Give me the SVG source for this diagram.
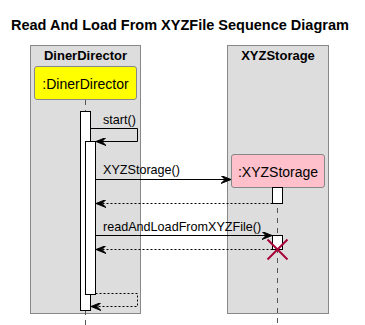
<svg xmlns="http://www.w3.org/2000/svg" width="365" height="325" viewBox="0 0 365 325">
  <style>
    .title { font-family: "Liberation Sans", Arial, sans-serif; font-size: 14.5px; font-weight: bold; fill: #000; }
    .boxtitle { font-family: "Liberation Sans", Arial, sans-serif; font-size: 13px; font-weight: bold; fill: #000; }
    .ptext { font-family: "Liberation Sans", Arial, sans-serif; font-size: 14px; fill: #000; }
    .mtext { font-family: "Liberation Sans", Arial, sans-serif; font-size: 12.6px; fill: #000; }
    .box { fill: #DDDDDD; stroke: #888888; stroke-width: 1; }
    .life { stroke: #555555; stroke-width: 1; stroke-dasharray: 5,5; fill: none; }
    .act { fill: #FFFFFF; stroke: #000000; stroke-width: 1; }
    .msg { stroke: #000000; stroke-width: 1; fill: none; }
    .ret { stroke: #000000; stroke-width: 1; fill: none; stroke-dasharray: 2,2; }
    .head { fill: #000000; stroke: #000000; stroke-width: 1; }
  </style>
  <defs>
    <marker id="arr" viewBox="0 0 10 8" markerWidth="10" markerHeight="8" refX="10" refY="4" orient="auto" markerUnits="userSpaceOnUse">
      <polygon class="head" points="10,4 0,0 4,4 0,8"/>
    </marker>
  </defs>

  <text class="title" x="11" y="30">Read And Load From XYZFile Sequence Diagram</text>

  <!-- boxes grouping participants -->
  <g id="box-dinerdirector">
    <rect class="box" x="30.5" y="45.5" width="110" height="268"/>
    <text class="boxtitle" x="85.5" y="60" text-anchor="middle">DinerDirector</text>
  </g>
  <g id="box-xyzstorage">
    <rect class="box" x="227.5" y="45.5" width="101" height="268"/>
    <text class="boxtitle" x="278" y="60" text-anchor="middle">XYZStorage</text>
  </g>

  <!-- lifelines -->
  <g id="lifelines">
    <line class="life" x1="85.5" y1="100" x2="85.5" y2="325"/>
    <line class="life" x1="277.5" y1="188" x2="277.5" y2="325"/>
  </g>

  <g id="dinerdirector">
    <rect x="34.5" y="66.5" width="102" height="33" rx="2.5" ry="2.5" fill="#FFFF00" stroke="#888888"/>
    <text class="ptext" x="85.5" y="88.5" text-anchor="middle">:DinerDirector</text>
    <rect class="act" x="80.5" y="111.5" width="10" height="199"/>
    <rect class="act" x="85.5" y="141.5" width="10" height="153"/>
  </g>

  <g id="xyzstorage">
    <rect x="231.5" y="154.5" width="93" height="33" rx="2.5" ry="2.5" fill="#FFC0CB" stroke="#888888"/>
    <text class="ptext" x="278" y="176.5" text-anchor="middle">:XYZStorage</text>
    <rect class="act" x="272.5" y="187.5" width="10" height="16"/>
    <rect class="act" x="272.5" y="235.5" width="10" height="14"/>
    <g id="destroy" stroke="#A80036" stroke-width="2">
      <line x1="267.5" y1="239.5" x2="287.5" y2="259.5"/>
      <line x1="287.5" y1="239.5" x2="267.5" y2="259.5"/>
    </g>
  </g>

  <g id="connectors">
    <polyline class="msg" points="90.5,128.5 137.5,128.5 137.5,141.5 96,141.5" marker-end="url(#arr)"/>
    <text class="mtext" x="103" y="124">start()</text>

    <line class="msg" x1="95.5" y1="179.5" x2="231" y2="179.5" marker-end="url(#arr)"/>
    <text class="mtext" x="103" y="174">XYZStorage()</text>

    <line class="ret" x1="272.5" y1="203.5" x2="96" y2="203.5" marker-end="url(#arr)"/>

    <line class="msg" x1="95.5" y1="235.5" x2="272" y2="235.5" marker-end="url(#arr)"/>
    <text class="mtext" x="103" y="230.5">readAndLoadFromXYZFile()</text>

    <line class="ret" x1="272.5" y1="249.5" x2="96" y2="249.5" marker-end="url(#arr)"/>

    <polyline class="ret" points="95.5,293.5 137.5,293.5 137.5,306.5 91,306.5" marker-end="url(#arr)"/>
  </g>
</svg>
